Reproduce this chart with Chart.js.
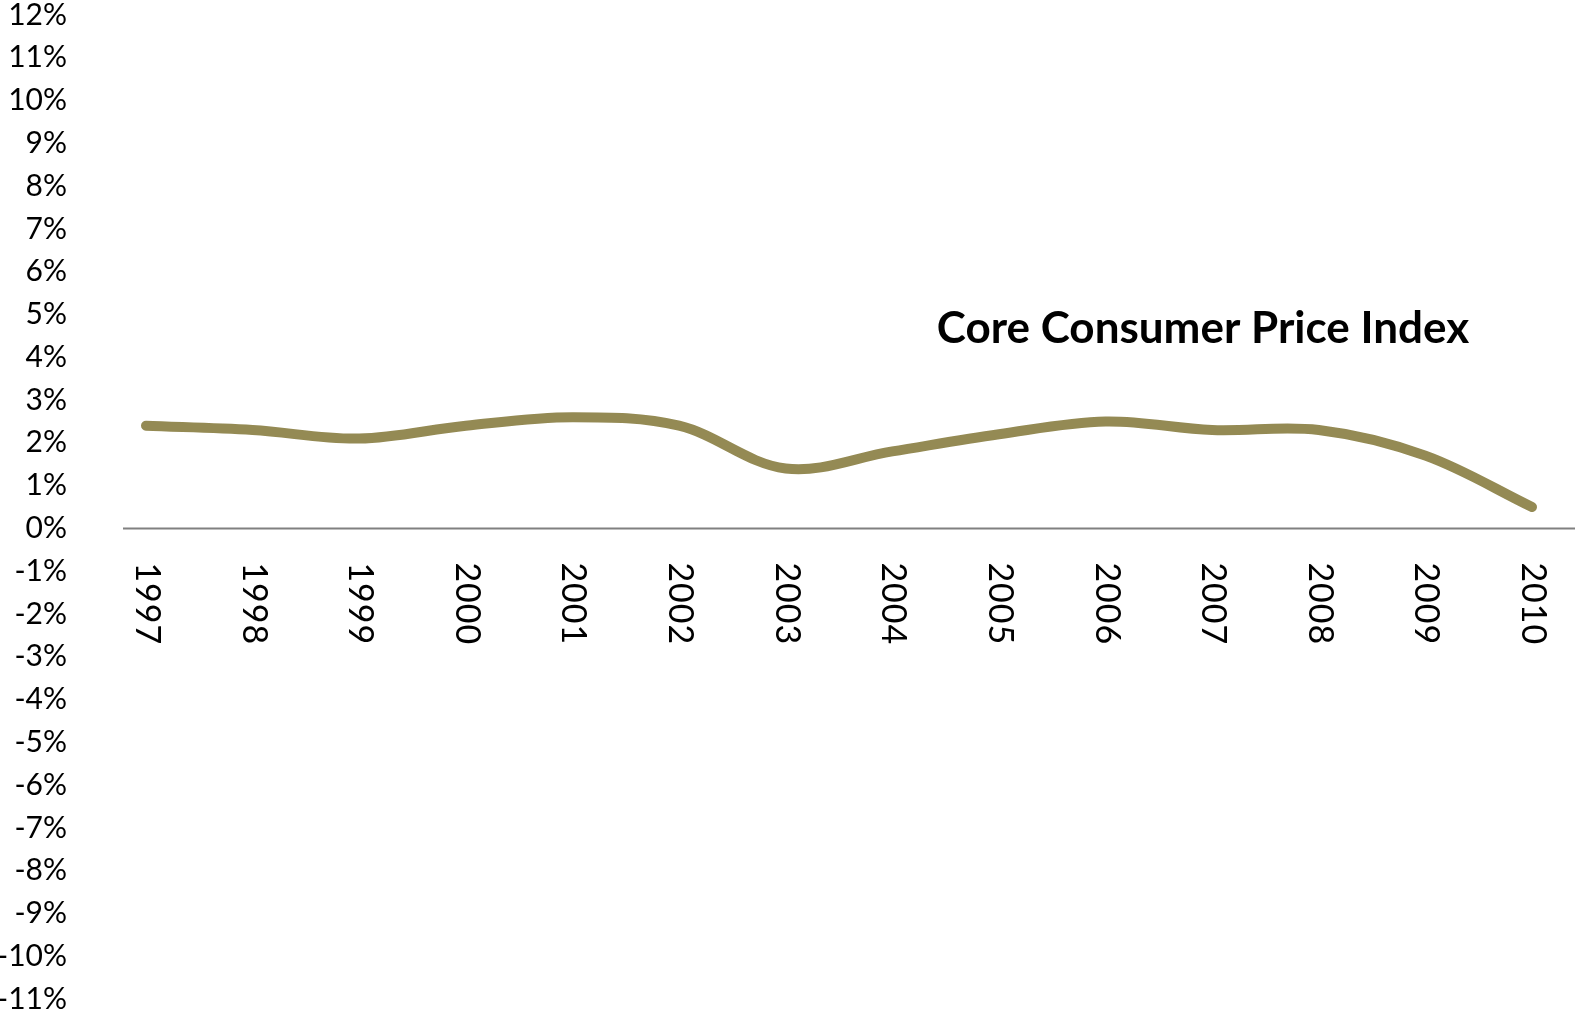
<!DOCTYPE html>
<html>
<head>
<meta charset="utf-8">
<script src="https://cdn.jsdelivr.net/npm/chart.js@4.4.1/dist/chart.umd.min.js"></script>
<style>
	html, body { margin: 0; padding: 0; background: #fff; }
	#wrap { width: 1575px; height: 1013px; position: relative; }
</style>
</head>
<body>
<div id="wrap"><canvas id="lineChart"></canvas></div>
<script>
const years = ['1997', '1998', '1999', '2000', '2001', '2002', '2003', '2004', '2005', '2006', '2007', '2008', '2009', '2010'];
const coreCpi = [2.4, 2.3, 2.1, 2.4, 2.6, 2.4, 1.4, 1.8, 2.2, 2.5, 2.3, 2.3, 1.7, 0.5];
const yMin = -11;
const yMax = 12;
const chartTitle = 'Core Consumer Price Index';

const fontFamily = 'Lato, "DejaVu Sans", sans-serif';

// x labels + zero line drawn by hand (Excel style: rotated clockwise, axis crossing at 0)
const xAxisAtZero = {
	id: 'xAxisAtZero',
	afterDatasetsDraw(chart) {
		const ctx = chart.ctx;
		const x = chart.scales.x;
		const y = chart.scales.y;
		const y0 = y.getPixelForValue(0);

		ctx.save();
		ctx.strokeStyle = '#808080';
		ctx.lineWidth = 2;
		ctx.beginPath();
		ctx.moveTo(123, y0);
		ctx.lineTo(chart.width, y0);
		ctx.stroke();

		ctx.fillStyle = '#000';
		ctx.font = '34px ' + fontFamily;
		ctx.letterSpacing = '1px';
		ctx.textAlign = 'left';
		ctx.textBaseline = 'middle';
		years.forEach((label, i) => {
			const px = x.getPixelForValue(i);
			ctx.save();
			ctx.translate(px + 1, y0 + 34);
			ctx.rotate(Math.PI / 2);
			ctx.fillText(label, 0, 0);
			ctx.restore();
		});

		ctx.letterSpacing = '0px';
		ctx.font = 'bold 44px ' + fontFamily;
		ctx.textAlign = 'center';
		ctx.fillText(chartTitle, 1203, 329);
		ctx.restore();
	},
};

const dataLine = {
	labels: years,
	datasets: [
		{
			label: chartTitle,
			data: coreCpi,
			fill: false,
			borderColor: '#948A54',
			borderWidth: 10,
			borderCapStyle: 'round',
			tension: 0.35,
			pointRadius: 0,
			clip: false,
		},
	],
};

const config = {
	type: 'line',
	data: dataLine,
	plugins: [xAxisAtZero],
	options: {
		responsive: true,
		maintainAspectRatio: false,
		animation: false,
		layout: { padding: { top: 15, bottom: 14, left: 0, right: 43 } },
		plugins: {
			legend: { display: false },
			tooltip: { enabled: false },
		},
		scales: {
			x: {
				display: false,
				offset: false,
			},
			y: {
				min: yMin,
				max: yMax,
				afterFit: (scale) => {
					scale.width = 146;
					scale.paddingTop = 0;
					scale.paddingBottom = 0;
				},
				grid: { display: false, drawTicks: false },
				border: { display: false },
				ticks: {
					stepSize: 1,
					padding: 79,
					color: '#000',
					font: { family: fontFamily, size: 30 },
					callback: (v) => v + '%',
				},
			},
		},
	},
};

const ctx = document.getElementById('lineChart').getContext('2d');
const myChart = new Chart(ctx, config);
</script>
</body>
</html>
